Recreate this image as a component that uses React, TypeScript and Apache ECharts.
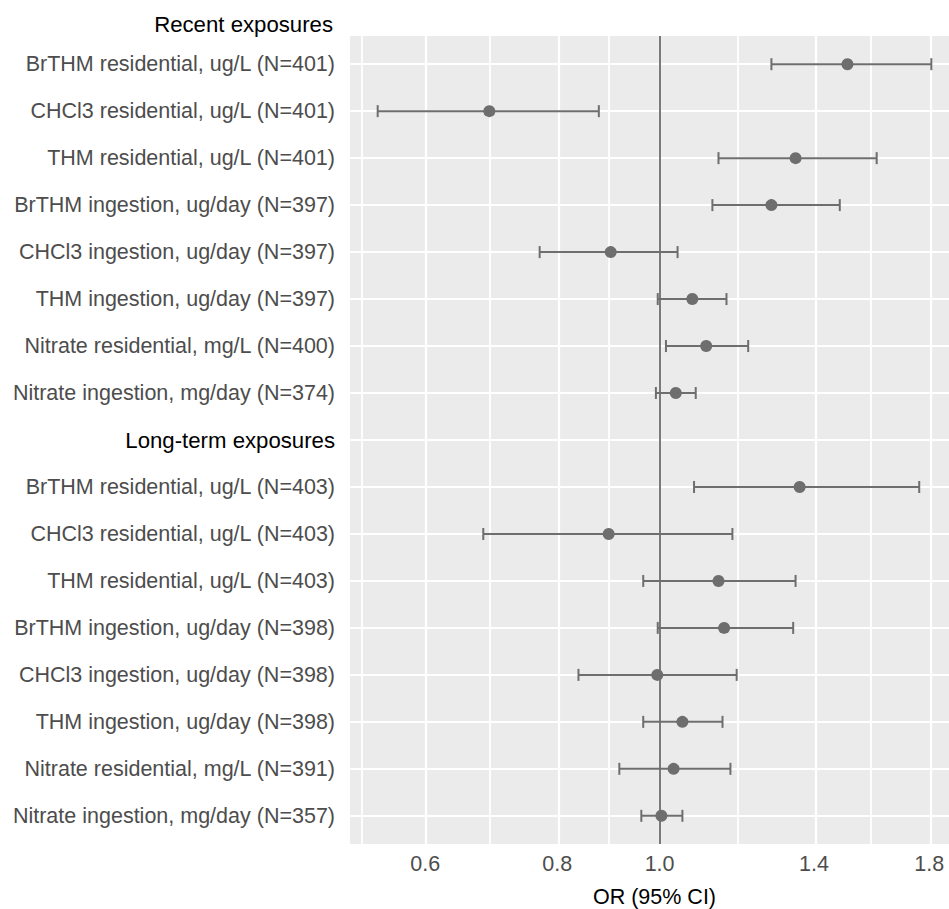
import React, { useEffect, useRef } from "react";
import * as echarts from "echarts";

const headers = ["Recent exposures", "Long-term exposures"];

const recentLabels = [
  "BrTHM residential, ug/L (N=401)",
  "CHCl3 residential, ug/L (N=401)",
  "THM residential, ug/L (N=401)",
  "BrTHM ingestion, ug/day (N=397)",
  "CHCl3 ingestion, ug/day (N=397)",
  "THM ingestion, ug/day (N=397)",
  "Nitrate residential, mg/L (N=400)",
  "Nitrate ingestion, mg/day (N=374)",
];
const recentOR = [1.506, 0.69, 1.345, 1.276, 0.899, 1.074, 1.107, 1.036];
const recentLo = [1.276, 0.541, 1.137, 1.122, 0.77, 0.996, 1.014, 0.992];
const recentHi = [1.808, 0.876, 1.605, 1.481, 1.04, 1.157, 1.213, 1.082];

const longLabels = [
  "BrTHM residential, ug/L (N=403)",
  "CHCl3 residential, ug/L (N=403)",
  "THM residential, ug/L (N=403)",
  "BrTHM ingestion, ug/day (N=398)",
  "CHCl3 ingestion, ug/day (N=398)",
  "THM ingestion, ug/day (N=398)",
  "Nitrate residential, mg/L (N=391)",
  "Nitrate ingestion, mg/day (N=357)",
];
const longOR = [1.357, 0.895, 1.137, 1.151, 0.995, 1.051, 1.031, 1.004];
const longLo = [1.078, 0.681, 0.965, 0.996, 0.838, 0.965, 0.916, 0.961];
const longHi = [1.761, 1.172, 1.345, 1.338, 1.183, 1.147, 1.167, 1.051];

const xTicks = [0.6, 0.8, 1.0, 1.4, 1.8];
const xTitle = "OR (95% CI)";

const FONT = "'Liberation Sans', Arial, sans-serif";
const FS = 21.5;
const FSH = 22.2;

export default function App() {
  const ref = useRef<HTMLDivElement>(null);

  useEffect(() => {
    if (!ref.current) return;
    const chart = echarts.init(ref.current, undefined, { renderer: "svg" });

    // Row positions: recent rows 1..8, long-term header 9, long-term rows 10..17
    const rowLabels: Record<number, string> = {};
    const rows: { y: number; or: number; lo: number; hi: number }[] = [];
    recentLabels.forEach((l, i) => {
      rowLabels[i + 1] = l;
      rows.push({ y: i + 1, or: recentOR[i], lo: recentLo[i], hi: recentHi[i] });
    });
    const headerPos = recentLabels.length + 1;
    rowLabels[headerPos] = headers[1];
    longLabels.forEach((l, i) => {
      rowLabels[headerPos + 1 + i] = l;
      rows.push({ y: headerPos + 1 + i, or: longOR[i], lo: longLo[i], hi: longHi[i] });
    });
    const nRows = headerPos + longLabels.length;
    const rowVals = Array.from({ length: nRows }, (_, i) => i + 1);

    const L = Math.log;
    const allLo = Math.min(...rows.map((r) => L(r.lo)));
    const allHi = Math.max(...rows.map((r) => L(r.hi)));
    const pad = (allHi - allLo) * 0.05;
    const xMin = allLo - pad;
    const xMax = allHi + pad;

    const majors = xTicks.map(L);
    const step = majors[1] - majors[0];
    const ext = [majors[0] - step, ...majors];
    const minors = ext.slice(0, -1).map((v, i) => (v + ext[i + 1]) / 2);

    const gridWhite = "#FFFFFF";
    const markColor = "#6E6E6E";

    const mkStyle = () => ({ stroke: markColor, lineWidth: 2 });

    const option: any = {
      animation: false,
      backgroundColor: "#FFFFFF",
      textStyle: { fontFamily: FONT },
      grid: {
        left: 350,
        top: 36,
        right: 0,
        bottom: 65,
        show: true,
        backgroundColor: "#EBEBEB",
        borderWidth: 0,
        containLabel: false,
        outerBoundsMode: "none",
      },
      xAxis: {
        type: "value",
        min: xMin,
        max: xMax,
        axisLine: { show: false },
        axisTick: { show: false },
        splitLine: { show: false },
        axisLabel: {
          customValues: majors,
          formatter: (v: number) => Math.exp(v).toFixed(1),
          color: "#4D4D4D",
          fontSize: FS,
          fontFamily: FONT,
          margin: 9,
        },
        name: xTitle,
        nameLocation: "middle",
        nameGap: 42,
        nameTextStyle: { color: "#000000", fontSize: FS, fontFamily: FONT },
      },
      yAxis: {
        type: "value",
        inverse: true,
        min: 0.4,
        max: nRows + 0.6,
        axisLine: { show: false },
        axisTick: { show: false },
        splitLine: { show: false },
        axisLabel: {
          customValues: rowVals,
          margin: 15,
          formatter: (v: number) => {
            const k = Math.round(v);
            const t = rowLabels[k] || "";
            return k === headerPos ? "{h|" + t + "}" : "{n|" + t + "}";
          },
          rich: {
            h: { color: "#000000", fontSize: FSH, fontFamily: FONT },
            n: { color: "#4D4D4D", fontSize: FS, fontFamily: FONT },
          },
        },
      },
      graphic: [
        {
          type: "text",
          right: 959 - 333,
          top: 13,
          style: {
            text: headers[0],
            fill: "#000000",
            font: `${FSH}px ${FONT}`,
          },
        },
      ],
      series: [
        {
          type: "scatter",
          data: [],
          silent: true,
          z: 1,
          markLine: {
            silent: true,
            z: 1,
            symbol: "none",
            label: { show: false },
            animation: false,
            data: [
              ...minors.map((v) => ({ xAxis: v, lineStyle: { color: gridWhite, width: 1.8, type: "solid" } })),
              ...majors.map((v) => ({ xAxis: v, lineStyle: { color: gridWhite, width: 2.2, type: "solid" } })),
              ...rowVals.map((v) => ({ yAxis: v, lineStyle: { color: gridWhite, width: 2.2, type: "solid" } })),
            ],
          },
        },
        {
          type: "scatter",
          data: [],
          silent: true,
          z: 2,
          markLine: {
            silent: true,
            z: 2,
            symbol: "none",
            label: { show: false },
            animation: false,
            data: [{ xAxis: 0, lineStyle: { color: "#7A7A7A", width: 2, type: "solid" } }],
          },
        },
        {
          type: "custom",
          z: 3,
          silent: true,
          data: rows.map((r) => [L(r.lo), L(r.hi), r.y]),
          encode: { x: [0, 1], y: 2 },
          renderItem: (params: any, api: any) => {
            const p1 = api.coord([api.value(0), api.value(2)]);
            const p2 = api.coord([api.value(1), api.value(2)]);
            const h = 6;
            return {
              type: "group",
              children: [
                { type: "line", shape: { x1: p1[0], y1: p1[1], x2: p2[0], y2: p2[1] }, style: mkStyle() },
                { type: "line", shape: { x1: p1[0], y1: p1[1] - h, x2: p1[0], y2: p1[1] + h }, style: mkStyle() },
                { type: "line", shape: { x1: p2[0], y1: p2[1] - h, x2: p2[0], y2: p2[1] + h }, style: mkStyle() },
              ],
            };
          },
        },
        {
          type: "scatter",
          z: 4,
          silent: true,
          symbol: "circle",
          symbolSize: 12,
          itemStyle: { color: markColor, opacity: 1 },
          data: rows.map((r) => [L(r.or), r.y]),
        },
      ],
    };

    chart.setOption(option);
    return () => chart.dispose();
  }, []);

  return (
    <div
      style={{
        position: "fixed",
        left: 0,
        top: 0,
        width: 949,
        height: 909,
        overflow: "hidden",
        background: "#fff",
      }}
    >
      <div ref={ref} style={{ width: 959, height: 909 }} />
    </div>
  );
}
